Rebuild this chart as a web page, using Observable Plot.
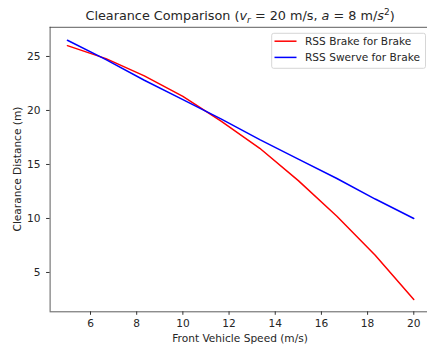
<!DOCTYPE html>
<html>
<head>
<meta charset="utf-8">
<script src="https://cdn.jsdelivr.net/npm/d3@7"></script>
<script src="https://cdn.jsdelivr.net/npm/@observablehq/plot@0.6"></script>
<style>
  body { margin: 0; background: #fff; }
  svg { display: block; }
</style>
</head>
<body>
<div id="chart"></div>
<script>
// Front vehicle speed samples (m/s)
const speeds = [5, 6.67, 8.33, 10, 11.67, 13.33, 15, 16.67, 18.33, 20];
// Clearance distance (m) for each strategy
const brakeClearance = [26.0, 24.8, 23.2, 21.3, 19.0, 16.5, 13.5, 10.2, 6.6, 2.5];
const swerveClearance = [26.5, 24.7, 22.8, 21.0, 19.2, 17.3, 15.5, 13.7, 11.8, 10.0];

const seriesNames = ["RSS Brake for Brake", "RSS Swerve for Brake"];
const seriesColors = ["red", "blue"];

const xTicks = [6, 8, 10, 12, 14, 16, 18, 20];
const yTicks = [5, 10, 15, 20, 25];

const rows = [
  ...speeds.map((v, i) => ({speed: v, clearance: brakeClearance[i], series: seriesNames[0]})),
  ...speeds.map((v, i) => ({speed: v, clearance: swerveClearance[i], series: seriesNames[1]}))
];

const W = 427, H = 347;
const axLeft = 49.6, axRight = 430.6, axTop = 26.8, axBottom = 311.3;
const xDom = [4.25, 20.75], yDom = [1.36, 27.7];
const fs = 10.6;

const chart = Plot.plot({
  width: W,
  height: H,
  marginLeft: axLeft,
  marginRight: 0,
  marginTop: axTop,
  marginBottom: H - axBottom,
  style: {fontFamily: "DejaVu Sans", fontSize: `${fs}px`, color: "#262626", background: "#fff"},
  x: {domain: xDom, range: [axLeft, axRight]},
  y: {domain: yDom, range: [axBottom, axTop]},
  color: {domain: seriesNames, range: seriesColors},
  marks: [
    Plot.line(rows, {x: "speed", y: "clearance", z: "series", stroke: "series", strokeWidth: 1.5}),
    Plot.ruleX([xDom[0]], {stroke: "#333", strokeWidth: 0.8}),
    Plot.ruleY([yDom[0]], {stroke: "#333", strokeWidth: 0.8}),
    Plot.ruleY([yDom[1]], {stroke: "#333", strokeWidth: 0.8}),
    Plot.axisX({ticks: xTicks, tickSize: 3.5, tickPadding: 4, label: null, stroke: "#333", fontSize: fs}),
    Plot.axisY({ticks: yTicks, tickSize: 3.5, tickPadding: 6, label: null, stroke: "#333", fontSize: fs})
  ]
});

document.getElementById("chart").appendChild(chart);

const svg = d3.select(chart);

// Title with italic symbols, subscript and superscript
const title = svg.append("text")
  .attr("x", (axLeft + axRight) / 2)
  .attr("y", 20)
  .attr("text-anchor", "middle")
  .attr("font-family", "DejaVu Sans")
  .attr("font-size", 12.8)
  .attr("fill", "#262626");
title.append("tspan").text("Clearance Comparison (");
title.append("tspan").attr("font-style", "italic").text("v");
title.append("tspan").attr("font-style", "italic").attr("font-size", 9).attr("dy", 2.5).text("r");
title.append("tspan").attr("dy", -2.5).text(" = 20 m/s, ");
title.append("tspan").attr("font-style", "italic").text("a");
title.append("tspan").text(" = 8 m/");
title.append("tspan").attr("font-style", "italic").text("s");
title.append("tspan").attr("font-size", 9).attr("dy", -5).text("2");
title.append("tspan").attr("dy", 5).text(")");

// Axis titles
svg.append("text")
  .attr("x", (axLeft + axRight) / 2)
  .attr("y", 342)
  .attr("text-anchor", "middle")
  .attr("font-family", "DejaVu Sans")
  .attr("font-size", fs)
  .attr("fill", "#262626")
  .text("Front Vehicle Speed (m/s)");

svg.append("text")
  .attr("transform", `translate(20.5, ${(axTop + axBottom) / 2}) rotate(-90)`)
  .attr("text-anchor", "middle")
  .attr("font-family", "DejaVu Sans")
  .attr("font-size", fs)
  .attr("fill", "#262626")
  .text("Clearance Distance (m)");

// Legend box in the upper right corner
const lg = svg.append("g");
lg.append("rect")
  .attr("x", 271.7).attr("y", 33.3)
  .attr("width", 153.8).attr("height", 35)
  .attr("rx", 2)
  .attr("fill", "#fff").attr("fill-opacity", 0.8)
  .attr("stroke", "#ccc").attr("stroke-width", 0.8);
seriesNames.forEach((name, i) => {
  const cy = 41.2 + i * 16.2;
  lg.append("line")
    .attr("x1", 274.5).attr("x2", 296.5)
    .attr("y1", cy).attr("y2", cy)
    .attr("stroke", seriesColors[i]).attr("stroke-width", 1.5);
  lg.append("text")
    .attr("x", 305).attr("y", cy)
    .attr("dy", "0.35em")
    .attr("text-anchor", "start")
    .attr("font-family", "DejaVu Sans")
    .attr("font-size", fs)
    .attr("fill", "#262626")
    .text(name);
});
</script>
</body>
</html>
